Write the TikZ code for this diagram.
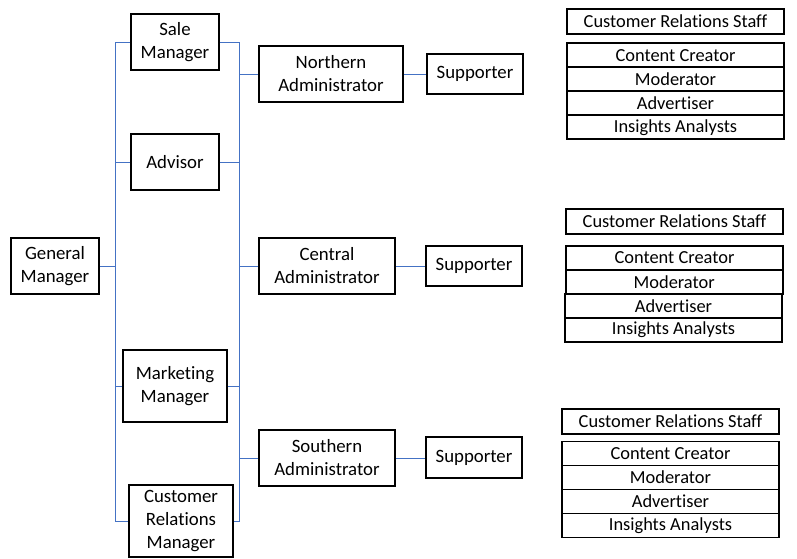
\documentclass[tikz,border=0pt]{standalone}
\usepackage{fontspec}
\setmainfont[Ligatures=NoCommon]{Carlito}
\begin{document}
\begin{tikzpicture}[x=1pt,y=-1pt,
  box/.style={draw=black,line width=1.9pt,inner sep=0pt,align=center,font=\fontsize{18.8}{23}\selectfont},
  cell/.style={draw=black,line width=1.7pt,inner sep=0pt,align=center,minimum height=24pt,minimum width=217pt,font=\fontsize{18.4}{22}\selectfont},
  conn/.style={draw={rgb,255:red,68;green,114;blue,196},line width=1pt}]
\useasboundingbox (0,0) rectangle (797,558);
% left column
\node[box,minimum width=88pt,minimum height=56pt] (gm) at (55,266) {General\\Manager};
\node[box,minimum width=88pt,minimum height=56pt] (sale) at (175,42) {Sale\\Manager};
\node[box,minimum width=88pt,minimum height=56pt] (adv) at (175,162) {Advisor};
\node[box,minimum width=104pt,minimum height=72pt] (mkt) at (175,386) {Marketing\\Manager};
\node[box,minimum width=104pt,minimum height=72pt] (crm) at (181,521) {Customer\\Relations\\Manager};
% administrators
\node[box,minimum width=144pt,minimum height=56pt] (nadm) at (331,74) {Northern\\Administrator};
\node[box,minimum width=136pt,minimum height=56pt] (cadm) at (327,266) {Central\\Administrator};
\node[box,minimum width=136pt,minimum height=56pt] (sadm) at (327,458) {Southern\\Administrator};
% supporters
\node[box,minimum width=96pt,minimum height=40pt] (nsup) at (475,74) {Supporter};
\node[box,minimum width=96pt,minimum height=40pt] (csup) at (474,266) {Supporter};
\node[box,minimum width=96pt,minimum height=41pt] (ssup) at (474,457.5) {Supporter};
% buses
\coordinate (L) at (115,0);
\coordinate (R) at (239,0);
\draw[conn] (gm.east) -- (gm.east -| L);
\draw[conn] (sale.west) -- (sale.west -| L) -- (crm.west -| L) -- (crm.west);
\draw[conn] (adv.west) -- (adv.west -| L);
\draw[conn] (mkt.west) -- (mkt.west -| L);
\draw[conn] (sale.east) -- (sale.east -| R) -- (crm.east -| R) -- (crm.east);
\draw[conn] (adv.east) -- (adv.east -| R);
\draw[conn] (mkt.east) -- (mkt.east -| R);
\draw[conn] (nadm.west) -- (nadm.west -| R);
\draw[conn] (cadm.west) -- (cadm.west -| R);
\draw[conn] (sadm.west) -- (sadm.west -| R);
\draw[conn] (nadm.east) -- (nsup.west);
\draw[conn] (cadm.east) -- (csup.west);
\draw[conn] (sadm.east) -- (sadm.east -| ssup.west);
% group 1
\node[cell,minimum height=25pt] (s1) at (675.5,21.5) {Customer Relations Staff};
\node[cell] (a1) at (675.5,55.3) {Content Creator};
\node[cell] (b1) at (675.5,79.3) {Moderator};
\node[cell] (c1) at (675.5,103.3) {Advertiser};
\node[cell] (d1) at (675.5,127.3) {Insights Analysts};
% group 2
\node[cell,minimum height=25pt] (s2) at (674.5,221.5) {Customer Relations Staff};
\node[cell] (a2) at (674.5,257.8) {Content Creator};
\node[cell] (b2) at (674.2,281.8) {Moderator};
\node[cell] (c2) at (673.5,305.8) {Advertiser};
\node[cell] (d2) at (673.5,329.8) {Insights Analysts};
% group 3
\node[cell,minimum height=25pt] (s3) at (670.5,421.5) {Customer Relations Staff};
\node[cell] (a3) at (670.5,453.5) {Content Creator};
\node[cell] (b3) at (670.5,477.5) {Moderator};
\node[cell] (c3) at (670.5,501.5) {Advertiser};
\node[cell] (d3) at (670.5,525.5) {Insights Analysts};
\end{tikzpicture}
\end{document}
